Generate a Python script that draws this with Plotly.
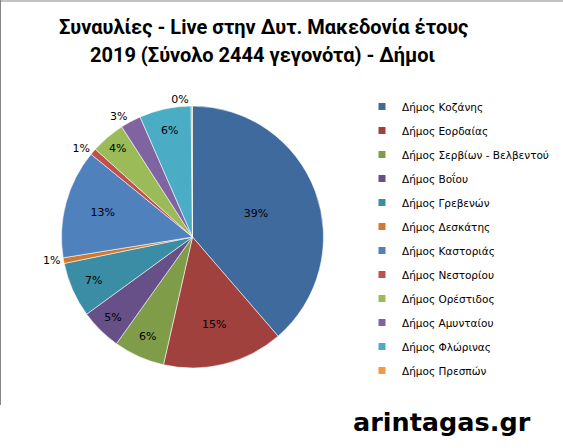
import plotly.graph_objects as go

labels = ["Δήμος Κοζάνης", "Δήμος Εορδαίας", "Δήμος Σερβίων - Βελβεντού", "Δήμος Βοΐου",
          "Δήμος Γρεβενών", "Δήμος Δεσκάτης", "Δήμος Καστοριάς", "Δήμος Νεστορίου",
          "Δήμος Ορέστιδος", "Δήμος Αμυνταίου", "Δήμος Φλώρινας", "Δήμος Πρεσπών"]
events = [945, 364, 154, 125, 166, 17, 328, 20, 103, 62, 156, 4]
colors = ["#3F6A9E", "#A1413E", "#7F9C48", "#674F87", "#3A8DA5", "#D2782F",
          "#4F81BD", "#C0504D", "#9BBB59", "#8064A2", "#4BACC6", "#F79646"]
text_pos = ["inside", "inside", "inside", "inside", "inside", "outside",
            "inside", "outside", "inside", "outside", "inside", "outside"]
title_lines = ["Συναυλίες - Live στην Δυτ. Μακεδονία έτους",
               "2019 (Σύνολο 2444 γεγονότα) - Δήμοι"]
watermark = "arintagas.gr"

W, H = 563, 448
fig = go.Figure()
fig.add_trace(go.Pie(
    labels=labels, values=events, sort=False, direction="clockwise", rotation=0,
    marker=dict(colors=colors, line=dict(color="rgba(255,255,255,0.7)", width=0.8)),
    texttemplate="%{percent:.0%}", textposition=text_pos,
    insidetextorientation="horizontal",
    textfont=dict(family="DejaVu Sans", size=11, color="#000000"),
    showlegend=False, automargin=False, hoverinfo="label+value+percent",
    domain=dict(x=[61 / W, 324 / W], y=[1 - 368 / H, 1 - 106 / H]),
))
for lab, col in zip(labels, colors):
    fig.add_trace(go.Scatter(
        x=[None], y=[None], mode="markers", name=lab, legendgroup=lab,
        marker=dict(symbol="square", size=7, color=col), hoverinfo="skip"))

fig.add_annotation(text="<b>" + title_lines[0] + "</b>", x=263 / W, y=1 - 27 / H,
                   xref="paper", yref="paper", showarrow=False, xanchor="center", yanchor="middle",
                   font=dict(family="Roboto", size=20, color="#000000"))
fig.add_annotation(text="<b>" + title_lines[1] + "</b>", x=263 / W, y=1 - 55 / H,
                   xref="paper", yref="paper", showarrow=False, xanchor="center", yanchor="middle",
                   font=dict(family="Roboto", size=20, color="#000000"))
fig.add_annotation(text="<b>" + watermark + "</b>", x=442 / W, y=1 - 422 / H,
                   xref="paper", yref="paper", showarrow=False, xanchor="center", yanchor="middle",
                   font=dict(family="DejaVu Sans", size=25.5, color="#000000"))

fig.add_shape(type="line", xref="paper", yref="paper", x0=0, x1=1, y0=1 - 1 / H, y1=1 - 1 / H,
              line=dict(color="#868686", width=1))
fig.add_shape(type="line", xref="paper", yref="paper", x0=0.5 / W, x1=0.5 / W, y0=1, y1=1 - 405 / H,
              line=dict(color="#868686", width=1))

fig.update_layout(
    width=W, height=H, margin=dict(l=0, r=0, t=0, b=0),
    paper_bgcolor="white", plot_bgcolor="white",
    xaxis=dict(visible=False), yaxis=dict(visible=False),
    legend=dict(x=362 / W, xanchor="left", y=1 - 92 / H, yanchor="top",
                font=dict(family="DejaVu Sans", size=10.5, color="#000000"),
                tracegroupgap=5, bgcolor="rgba(0,0,0,0)"),
)
fig.write_html("out.html", config={"displayModeBar": False},
               post_script="document.body.style.margin='0';document.body.style.overflow='hidden';")
